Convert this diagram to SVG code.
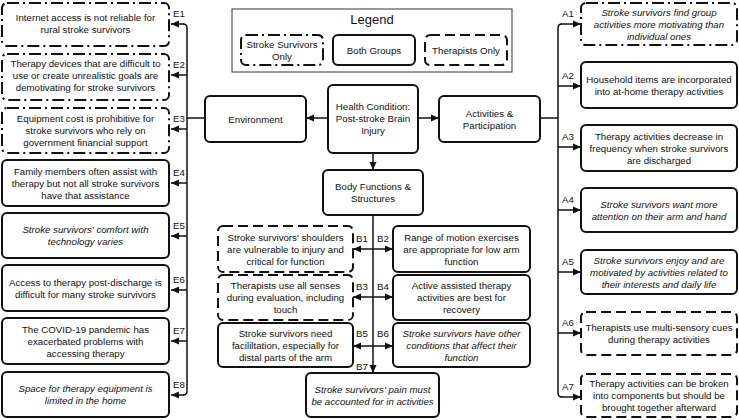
<svg xmlns="http://www.w3.org/2000/svg" width="739" height="420" viewBox="0 0 739 420">
<style>
text{font-family:"Liberation Sans",Arial,sans-serif;font-size:9.7px;fill:#111;}
.t{text-anchor:middle}
.i{font-style:italic}
.box{fill:#fff;stroke:#111;stroke-width:2}
.ss{stroke-dasharray:12 4 2 4}
.th{stroke-dasharray:10 5}
.c{fill:none;stroke:#111;stroke-width:1.5}
.lg{fill:#fff;stroke:#333;stroke-width:1}
</style>
<defs>
<marker id="ah" markerUnits="userSpaceOnUse" markerWidth="9" markerHeight="8" refX="8" refY="4" orient="auto"><path d="M0,0.5 L8,4 L0,7.5z" fill="#111"/></marker>
</defs>
<rect width="739" height="420" fill="#fff"/>

<g id="connectors">
<path class="c" d="M183,24 Q187,24 187,28 V391 Q187,395 183,395"/>
<path class="c" d="M205,118 H187"/>
<path class="c" d="M184,24 H171" marker-end="url(#ah)"/>
<path class="c" d="M187,75 H171" marker-end="url(#ah)"/>
<path class="c" d="M187,129 H171" marker-end="url(#ah)"/>
<path class="c" d="M187,183 H171" marker-end="url(#ah)"/>
<path class="c" d="M187,236 H171" marker-end="url(#ah)"/>
<path class="c" d="M187,290 H171" marker-end="url(#ah)"/>
<path class="c" d="M187,341 H171" marker-end="url(#ah)"/>
<path class="c" d="M184,395 H171" marker-end="url(#ah)"/>

<path class="c" d="M562,24 Q558,24 558,28 V393 Q558,397 562,397"/>
<path class="c" d="M540,118 H558"/>
<path class="c" d="M561,24 H581" marker-end="url(#ah)"/>
<path class="c" d="M558,86 H581" marker-end="url(#ah)"/>
<path class="c" d="M558,147 H581" marker-end="url(#ah)"/>
<path class="c" d="M558,210 H581" marker-end="url(#ah)"/>
<path class="c" d="M558,272 H581" marker-end="url(#ah)"/>
<path class="c" d="M558,333 H581" marker-end="url(#ah)"/>
<path class="c" d="M561,397 H581" marker-end="url(#ah)"/>

<path class="c" d="M328,118 H306" marker-end="url(#ah)"/>
<path class="c" d="M418,118 H439" marker-end="url(#ah)"/>
<path class="c" d="M373,153 V170" marker-end="url(#ah)"/>

<path class="c" d="M373,215 V373" marker-end="url(#ah)"/>
<path class="c" d="M373,249 H353" marker-end="url(#ah)"/>
<path class="c" d="M373,249 H393" marker-end="url(#ah)"/>
<path class="c" d="M373,297 H353" marker-end="url(#ah)"/>
<path class="c" d="M373,297 H393" marker-end="url(#ah)"/>
<path class="c" d="M373,346 H353" marker-end="url(#ah)"/>
<path class="c" d="M373,346 H393" marker-end="url(#ah)"/>

<text x="173" y="17">E1</text>
<text x="173" y="68">E2</text>
<text x="173" y="122">E3</text>
<text x="173" y="176">E4</text>
<text x="173" y="229">E5</text>
<text x="173" y="283">E6</text>
<text x="173" y="334">E7</text>
<text x="173" y="388">E8</text>

<text x="562" y="17">A1</text>
<text x="562" y="79">A2</text>
<text x="562" y="140">A3</text>
<text x="562" y="203">A4</text>
<text x="562" y="265">A5</text>
<text x="562" y="326">A6</text>
<text x="562" y="390">A7</text>

<text x="356" y="241.5">B1</text>
<text x="377" y="241.5">B2</text>
<text x="356" y="289.5">B3</text>
<text x="377" y="289.5">B4</text>
<text x="356" y="337">B5</text>
<text x="377" y="337">B6</text>
<text x="356" y="370">B7</text>
</g>

<g id="legend">
<rect class="lg" x="232" y="9" width="280" height="63"/>
<text class="t" x="372" y="24" style="font-size:13px">Legend</text>
<rect class="box ss" x="241" y="35" width="82" height="30" rx="5"/>
<text class="t" x="282" y="47.5">Stroke Survivors</text>
<text class="t" x="282" y="59.5">Only</text>
<rect class="box" x="333" y="35" width="82" height="30" rx="5"/>
<text class="t" x="374" y="53.5">Both Groups</text>
<rect class="box th" x="425" y="35" width="82" height="30" rx="5"/>
<text class="t" x="466" y="53.5">Therapists Only</text>
</g>

<g id="E1"><rect class="box ss" x="2" y="3" width="167" height="43" rx="5"/>
<text class="t" x="85.5" y="21">Internet access is not reliable for</text>
<text class="t" x="85.5" y="33">rural stroke survivors</text></g>
<g id="E2"><rect class="box ss" x="2" y="54" width="167" height="46" rx="5"/>
<text class="t" x="85.5" y="67">Therapy devices that are difficult to</text>
<text class="t" x="85.5" y="79">use or create unrealistic goals are</text>
<text class="t" x="85.5" y="91">demotivating for stroke survivors</text></g>
<g id="E3"><rect class="box ss" x="2" y="108" width="167" height="45" rx="5"/>
<text class="t" x="85.5" y="122">Equipment cost is prohibitive for</text>
<text class="t" x="85.5" y="134">stroke survivors who rely on</text>
<text class="t" x="85.5" y="146">government financial support</text></g>
<g id="E4"><rect class="box" x="2" y="160" width="167" height="46" rx="5"/>
<text class="t" x="85.5" y="174.5">Family members often assist with</text>
<text class="t" x="85.5" y="186.5">therapy but not all stroke survivors</text>
<text class="t" x="85.5" y="198.5">have that assistance</text></g>
<g id="E5"><rect class="box" x="2" y="213" width="167" height="45" rx="5"/>
<text class="t i" x="85.5" y="233">Stroke survivors' comfort with</text>
<text class="t i" x="85.5" y="245">technology varies</text></g>
<g id="E6"><rect class="box" x="2" y="265" width="167" height="46" rx="5"/>
<text class="t" x="85.5" y="285.5">Access to therapy post-discharge is</text>
<text class="t" x="85.5" y="297.5">difficult for many stroke survivors</text></g>
<g id="E7"><rect class="box" x="2" y="318" width="167" height="46" rx="5"/>
<text class="t" x="85.5" y="332.5">The COVID-19 pandemic has</text>
<text class="t" x="85.5" y="344.5">exacerbated problems with</text>
<text class="t" x="85.5" y="356.5">accessing therapy</text></g>
<g id="E8"><rect class="box" x="2" y="372" width="167" height="45" rx="5"/>
<text class="t i" x="85.5" y="392">Space for therapy equipment is</text>
<text class="t i" x="85.5" y="404">limited in the home</text></g>

<g id="environment"><rect class="box" x="205" y="96" width="101" height="46" rx="5"/>
<text class="t" x="255.5" y="122.5">Environment</text></g>
<g id="health"><rect class="box" x="328" y="85" width="90" height="68" rx="5"/>
<text class="t" x="373" y="110">Health Condition:</text>
<text class="t" x="373" y="122">Post-stroke Brain</text>
<text class="t" x="373" y="134">Injury</text></g>
<g id="activities"><rect class="box" x="439" y="96" width="101" height="46" rx="5"/>
<text class="t" x="489.5" y="116.5">Activities &amp;</text>
<text class="t" x="489.5" y="128.5">Participation</text></g>
<g id="body"><rect class="box" x="323" y="170" width="100" height="45" rx="5"/>
<text class="t" x="373" y="190">Body Functions &amp;</text>
<text class="t" x="373" y="202">Structures</text></g>

<g id="B1"><rect class="box th" x="218" y="226" width="135" height="46" rx="5"/>
<text class="t" x="285.5" y="240.5">Stroke survivors' shoulders</text>
<text class="t" x="285.5" y="252.5">are vulnerable to injury and</text>
<text class="t" x="285.5" y="264.5">critical for function</text></g>
<g id="B2"><rect class="box" x="393" y="226" width="137" height="46" rx="5"/>
<text class="t" x="461.5" y="240.5">Range of motion exercises</text>
<text class="t" x="461.5" y="252.5">are appropriate for low arm</text>
<text class="t" x="461.5" y="264.5">function</text></g>
<g id="B3"><rect class="box th" x="218" y="275" width="135" height="45" rx="5"/>
<text class="t" x="285.5" y="289">Therapists use all senses</text>
<text class="t" x="285.5" y="301">during evaluation, including</text>
<text class="t" x="285.5" y="313">touch</text></g>
<g id="B4"><rect class="box" x="393" y="275" width="137" height="45" rx="5"/>
<text class="t" x="461.5" y="289">Active assisted therapy</text>
<text class="t" x="461.5" y="301">activities are best for</text>
<text class="t" x="461.5" y="313">recovery</text></g>
<g id="B5"><rect class="box" x="218" y="323" width="135" height="44" rx="5"/>
<text class="t" x="285.5" y="336.5">Stroke survivors need</text>
<text class="t" x="285.5" y="348.5">facililtation, especially for</text>
<text class="t" x="285.5" y="360.5">distal parts of the arm</text></g>
<g id="B6"><rect class="box" x="393" y="323" width="137" height="44" rx="5"/>
<text class="t i" x="461.5" y="336.5">Stroke survivors have other</text>
<text class="t i" x="461.5" y="348.5">conditions that affect their</text>
<text class="t i" x="461.5" y="360.5">function</text></g>
<g id="B7"><rect class="box" x="306" y="373" width="133" height="44" rx="5"/>
<text class="t i" x="372.5" y="392.5">Stroke survivors' pain must</text>
<text class="t i" x="372.5" y="404.5">be accounted for in activities</text></g>

<g id="A1"><rect class="box ss" x="581" y="3" width="156" height="42" rx="5"/>
<text class="t i" x="659" y="15.5">Stroke survivors find group</text>
<text class="t i" x="659" y="27.5">activities more motivating than</text>
<text class="t i" x="659" y="39.5">individual ones</text></g>
<g id="A2"><rect class="box" x="581" y="62" width="156" height="46" rx="5"/>
<text class="t" x="659" y="82.5">Household items are incorporated</text>
<text class="t" x="659" y="94.5">into at-home therapy activities</text></g>
<g id="A3"><rect class="box" x="581" y="125" width="156" height="46" rx="5"/>
<text class="t" x="659" y="139.5">Therapy activities decrease in</text>
<text class="t" x="659" y="151.5">frequency when stroke survivors</text>
<text class="t" x="659" y="163.5">are discharged</text></g>
<g id="A4"><rect class="box" x="581" y="188" width="156" height="44" rx="5"/>
<text class="t i" x="659" y="207.5">Stroke survivors want more</text>
<text class="t i" x="659" y="219.5">attention on their arm and hand</text></g>
<g id="A5"><rect class="box" x="581" y="250" width="156" height="44" rx="5"/>
<text class="t i" x="659" y="263.5">Stroke survivors enjoy and are</text>
<text class="t i" x="659" y="275.5">motivated by activities related to</text>
<text class="t i" x="659" y="287.5">their interests and daily life</text></g>
<g id="A6"><rect class="box th" x="581" y="312" width="156" height="43" rx="5"/>
<text class="t" x="659" y="331">Therapists use multi-sensory cues</text>
<text class="t" x="659" y="343">during therapy activities</text></g>
<g id="A7"><rect class="box th" x="581" y="374" width="156" height="43" rx="5"/>
<text class="t" x="659" y="387">Therapy activities can be broken</text>
<text class="t" x="659" y="399">into components but should be</text>
<text class="t" x="659" y="411">brought together afterward</text></g>
</svg>
